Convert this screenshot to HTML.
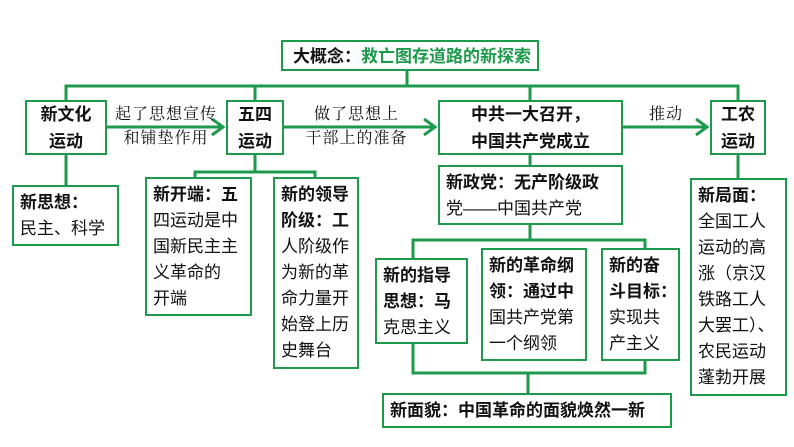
<!DOCTYPE html>
<html><head><meta charset="utf-8"><style>
body{margin:0;width:794px;height:447px;background:#fff;position:relative;overflow:hidden;font-family:"Liberation Sans","Noto Sans CJK SC",sans-serif;color:#111}
.b{position:absolute;border:2px solid #1e9a4c;box-sizing:border-box;background:#fff;font-size:17px;line-height:26px}
.c{text-align:center;font-weight:bold;display:flex;align-items:center;justify-content:center;flex-direction:column;line-height:27px}
.t{padding:3px 0 0 6px}
.t b{font-weight:bold}
.lab{position:absolute;font-family:"Liberation Serif","Noto Serif CJK SC",serif;font-size:16px;line-height:24px;text-align:center;letter-spacing:1px}
</style></head><body>
<svg width="794" height="447" style="position:absolute;left:0;top:0">
<g stroke="#1e9a4c" stroke-width="3" fill="none">
<path d="M66 100 V86 H738 V100"/><path d="M407 70 V86"/><path d="M255 86 V100"/><path d="M530 86 V100"/>
<path d="M107 127 H222"/><path d="M212 119 L223 127 L212 135"/>
<path d="M283 127 H434"/><path d="M424 119 L435 127 L424 135"/>
<path d="M622 127 H706"/><path d="M696 119 L707 127 L696 135"/>
<path d="M66 155 V185"/>
<path d="M255 155 V172"/><path d="M195 177 V172 H315 V177"/>
<path d="M530 155 V165"/>
<path d="M530 224 V240"/><path d="M413 258 V240 H645 V248"/>
<path d="M413 343 V373 H645 V360"/><path d="M528 373 V393"/>
<path d="M738 155 V178"/>
</g></svg>
<div class="b t" style="left:281px;top:40px;width:258px;height:31px;line-height:24px;font-weight:bold;padding-left:10px">大概念：<span style="color:#1e9a4c">救亡图存道路的新探索</span></div>
<div class="b c" style="left:25px;top:100px;width:82px;height:55px">新文化<br>运动</div>
<div class="b c" style="left:226px;top:100px;width:58px;height:55px">五四<br>运动</div>
<div class="b c" style="left:438px;top:100px;width:185px;height:55px">中共一大召开，<br>中国共产党成立</div>
<div class="b c" style="left:710px;top:100px;width:56px;height:55px">工农<br>运动</div>
<div class="lab" style="left:107px;top:103px;width:118px">起了思想宣传<br>和铺垫作用</div>
<div class="lab" style="left:284px;top:103px;width:145px">做了思想上<br>干部上的准备</div>
<div class="lab" style="left:622px;top:103px;width:88px">推动</div>
<div class="b t" style="left:12px;top:185px;width:107px;height:61px"><b>新思想：</b><br>民主、科学</div>
<div class="b t" style="left:145px;top:177px;width:107px;height:139px"><b>新开端：五</b><br>四运动是中<br>国新民主主<br>义革命的<br>开端</div>
<div class="b t" style="left:273px;top:177px;width:86px;height:192px"><b>新的领导<br>阶级：工</b><br>人阶级作<br>为新的革<br>命力量开<br>始登上历<br>史舞台</div>
<div class="b t" style="left:438px;top:165px;width:185px;height:60px"><b>新政党：无产阶级政</b><br>党——中国共产党</div>
<div class="b t" style="left:375px;top:258px;width:93px;height:86px"><b>新的指导<br>思想：马</b><br>克思主义</div>
<div class="b t" style="left:481px;top:248px;width:106px;height:113px"><b>新的革命纲<br>领：通过中</b><br>国共产党第<br>一个纲领</div>
<div class="b t" style="left:601px;top:248px;width:79px;height:113px"><b>新的奋<br>斗目标：</b><br>实现共<br>产主义</div>
<div class="b t" style="left:382px;top:393px;width:290px;height:35px;padding-top:3px;font-weight:bold">新面貌：中国革命的面貌焕然一新</div>
<div class="b t" style="left:690px;top:178px;width:97px;height:218px"><b>新局面：</b><br>全国工人<br>运动的高<br>涨（京汉<br>铁路工人<br>大罢工）、<br>农民运动<br>蓬勃开展</div>
</body></html>
